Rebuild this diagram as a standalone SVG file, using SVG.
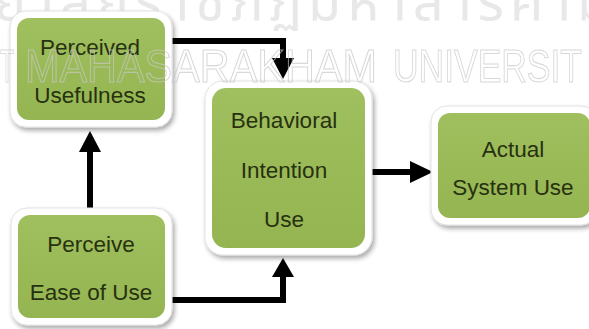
<svg xmlns="http://www.w3.org/2000/svg" width="589" height="329" viewBox="0 0 589 329">
<defs>
<filter id="sh" x="-10%" y="-10%" width="125%" height="125%">
<feGaussianBlur in="SourceAlpha" stdDeviation="2.5"/>
<feOffset dx="2" dy="3" result="b"/>
<feComponentTransfer><feFuncA type="linear" slope="0.35"/></feComponentTransfer>
<feMerge><feMergeNode/><feMergeNode in="SourceGraphic"/></feMerge>
</filter>
<linearGradient id="g" x1="0" y1="0" x2="0" y2="1">
<stop offset="0" stop-color="#a0bf5e"/>
<stop offset="1" stop-color="#94b552"/>
</linearGradient>
</defs>
<style>
.wm{font-family:"Liberation Sans",Arial,sans-serif;font-size:47px;fill:none;stroke:#c8c8c8;stroke-width:1.1;opacity:0.7}
.th{font-family:"Noto Sans Thai","Noto Sans",sans-serif;font-size:54px;fill:#e8e8e8}
.frame{fill:#ffffff;stroke:#e2e2e2;stroke-width:1;filter:url(#sh)}
.box{fill:url(#g)}
.lbl{font-family:"Liberation Sans",Arial,sans-serif;font-size:22.5px;fill:#27310f;text-anchor:middle}
.cn{fill:none;stroke:#000;stroke-width:6}
.ah{fill:#000}
</style>
<rect width="589" height="329" fill="#ffffff"/>
<g id="watermark-thai">
<text class="th" x="-6" y="20" letter-spacing="6">ยาลัยราชภัฏมหาสารคาม</text>
</g>
<g id="connectors">
<path class="cn" d="M170,41 H283 V60"/>
<polygon class="ah" points="272,58 294,58 283,79"/>
<path class="cn" d="M90,210 V150"/>
<polygon class="ah" points="79,152 101,152 90,131"/>
<path class="cn" d="M170,300 H283 V275"/>
<polygon class="ah" points="272,277 294,277 283,258"/>
<path class="cn" d="M370,172 H412"/>
<polygon class="ah" points="410,161 410,183 433,172"/>
</g>
<g id="perceived-usefulness">
<rect class="frame" x="10" y="11" width="162" height="116" rx="16"/>
<rect class="box" x="17" y="18" width="148" height="102" rx="12"/>
<text class="lbl" x="90" y="55">Perceived</text>
<text class="lbl" x="90" y="103">Usefulness</text>
</g>
<g id="behavioral-intention">
<rect class="frame" x="205" y="81" width="167" height="174" rx="18"/>
<rect class="box" x="212" y="88" width="153" height="160" rx="14"/>
<text class="lbl" x="284" y="128">Behavioral</text>
<text class="lbl" x="284" y="178">Intention</text>
<text class="lbl" x="284" y="227">Use</text>
</g>
<g id="actual-system-use">
<rect class="frame" x="431" y="106" width="166" height="119" rx="16"/>
<rect class="box" x="438" y="113" width="152" height="105" rx="12"/>
<text class="lbl" x="513" y="157">Actual</text>
<text class="lbl" x="513" y="195">System Use</text>
</g>
<g id="perceived-ease-of-use">
<rect class="frame" x="11" y="208" width="161" height="117" rx="16"/>
<rect class="box" x="18" y="215" width="147" height="103" rx="12"/>
<text class="lbl" x="91" y="252">Perceive</text>
<text class="lbl" x="91" y="300">Ease of Use</text>
</g>
<g id="watermark">
<text class="wm" x="0" y="82" textLength="14" lengthAdjust="spacingAndGlyphs">T</text>
<text class="wm" x="25" y="82" textLength="352" lengthAdjust="spacingAndGlyphs">MAHASARAKHAM</text>
<text class="wm" x="393" y="82" textLength="189" lengthAdjust="spacingAndGlyphs">UNIVERSIT</text>
</g>
</svg>
